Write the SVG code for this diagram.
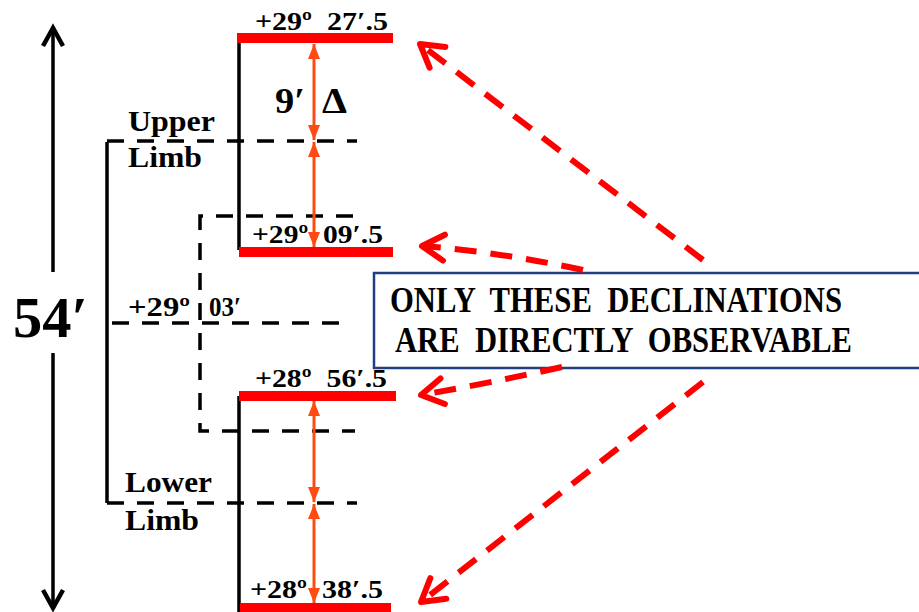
<svg xmlns="http://www.w3.org/2000/svg" width="919" height="612" viewBox="0 0 919 612">
<style>
.t{font-family:"Liberation Serif","Times New Roman",serif;font-weight:bold;fill:#000;white-space:pre}
.blk{stroke:#000;stroke-width:3.5;fill:none}
.dash{stroke:#000;stroke-width:3.5;fill:none;stroke-dasharray:17 13}
.bar{fill:#FF0000}
.org{stroke:#FF4A12;stroke-width:3;fill:none}
.rd{stroke:#FF0000;stroke-width:6;fill:none;stroke-dasharray:22 14}
</style>
<defs>
<marker id="tri" viewBox="-16 -8 18 16" refX="0" refY="0" markerWidth="18" markerHeight="16" markerUnits="userSpaceOnUse" orient="auto-start-reverse">
<path d="M-15,-6 L0,0 L-15,6 z" fill="#FF4A12"/>
</marker>
<marker id="chev" viewBox="-28 -20 34 40" refX="0" refY="0" markerWidth="34" markerHeight="40" markerUnits="userSpaceOnUse" orient="auto" overflow="visible">
<path d="M-22,-13 L0,0 L-22,13" fill="none" stroke="#FF0000" stroke-width="6" stroke-linecap="round" stroke-linejoin="round"/>
</marker>
</defs>

<g id="scale-arrow">
<path class="blk" d="M53,30 V272 M53,353 V606" stroke-width="4"/>
<polyline points="43,46 53,28 63,46" fill="none" stroke="#000" stroke-width="4.5" stroke-linejoin="miter"/>
<polyline points="43,590 53,608 63,590" fill="none" stroke="#000" stroke-width="4.5" stroke-linejoin="miter"/>
<text class="t" x="13" y="337" font-size="58" textLength="75" lengthAdjust="spacingAndGlyphs">54′</text>
</g>

<g id="bracket">
<path class="blk" d="M107,142 V503"/>
</g>

<g id="upper-limb">
<path class="dash" d="M107,141 H357"/>
<text class="t" x="128" y="131" font-size="30" textLength="87" lengthAdjust="spacingAndGlyphs">Upper</text>
<text class="t" x="128" y="167" font-size="30" textLength="74" lengthAdjust="spacingAndGlyphs">Limb</text>
</g>

<g id="center">
<path class="dash" d="M112,323 H352"/>
<text class="t" font-size="27"><tspan x="128" y="316" textLength="62" lengthAdjust="spacingAndGlyphs">+29º</tspan> <tspan x="209" y="316" textLength="32" lengthAdjust="spacingAndGlyphs">03′</tspan></text>
</g>

<g id="lower-limb">
<path class="dash" d="M107,503 H357"/>
<text class="t" x="125" y="492" font-size="30" textLength="87" lengthAdjust="spacingAndGlyphs">Lower</text>
<text class="t" x="125" y="530" font-size="30" textLength="74" lengthAdjust="spacingAndGlyphs">Limb</text>
</g>

<g id="sun-outline">
<path class="dash" d="M353,216 H200 V431 H355"/>
</g>

<g id="upper-group">
<path class="blk" d="M239,40 V250"/>
<rect class="bar" x="237" y="33" width="156" height="10"/>
<rect class="bar" x="239" y="247" width="154" height="10"/>
<text class="t" x="255" y="30" font-size="26" textLength="133" lengthAdjust="spacingAndGlyphs">+29º  27′.5</text>
<text class="t" x="252" y="243" font-size="26" textLength="131" lengthAdjust="spacingAndGlyphs">+29º  09′.5</text>
<text class="t" font-size="35"><tspan x="275" y="113" textLength="30" lengthAdjust="spacingAndGlyphs">9′</tspan> <tspan x="322" y="113" textLength="25" lengthAdjust="spacingAndGlyphs">Δ</tspan></text>
</g>

<g id="lower-group">
<path class="blk" d="M239,396 V612"/>
<rect class="bar" x="239" y="391" width="157" height="10"/>
<rect class="bar" x="240" y="603" width="151" height="10"/>
<text class="t" x="255" y="387" font-size="26" textLength="132" lengthAdjust="spacingAndGlyphs">+28º  56′.5</text>
<text class="t" x="250" y="598" font-size="26" textLength="133" lengthAdjust="spacingAndGlyphs">+28º  38′.5</text>
</g>

<g id="note">
<rect x="374" y="273" width="560" height="95" fill="#fff" stroke="#1F3F80" stroke-width="2.5"/>
<text class="t" x="390" y="312" font-size="35" textLength="452" lengthAdjust="spacingAndGlyphs">ONLY  THESE  DECLINATIONS</text>
<text class="t" x="395" y="352" font-size="35" textLength="457" lengthAdjust="spacingAndGlyphs">ARE  DIRECTLY  OBSERVABLE</text>
</g>

<g id="connectors">
<path class="org" d="M314,44 V140" marker-start="url(#tri)" marker-end="url(#tri)"/>
<path class="org" d="M314,142 V247" marker-start="url(#tri)" marker-end="url(#tri)"/>
<path class="org" d="M314,401 V502" marker-start="url(#tri)" marker-end="url(#tri)"/>
<path class="org" d="M314,504 V603" marker-start="url(#tri)" marker-end="url(#tri)"/>
<path class="rd" d="M703,260 L420,44" marker-end="url(#chev)"/>
<path class="rd" d="M583,270 Q500,252 422,246" marker-end="url(#chev)"/>
<path class="rd" d="M562,367 Q490,383 421,395" marker-end="url(#chev)"/>
<path class="rd" d="M703,382 L421,602" marker-end="url(#chev)"/>
</g>
</svg>
